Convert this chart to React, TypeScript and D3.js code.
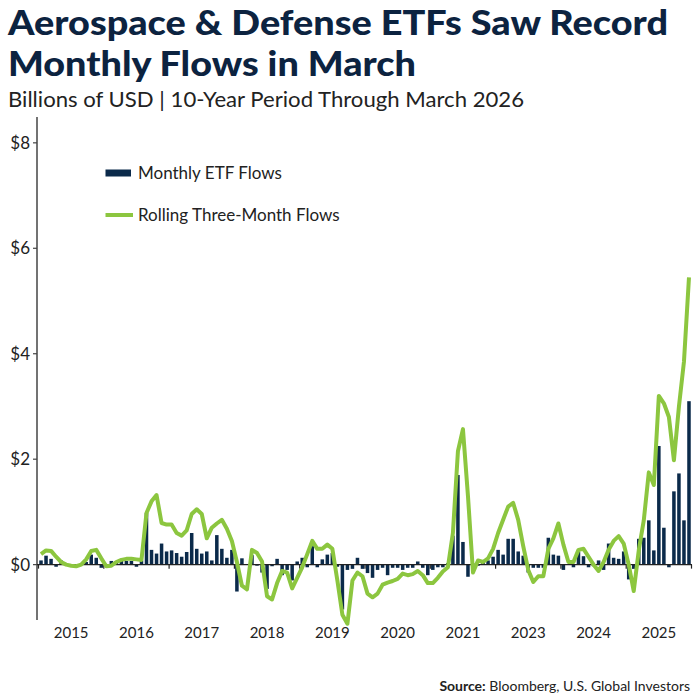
import React from "react";
import * as d3 from "d3";

// Monthly ETF flows, billions USD (Jun 2015 .. Mar 2026)
const monthlyFlows: number[] = [
  0.08, 0.17, 0.11, -0.04, 0.08, 0.02, 0.01, 0.01, 0.02, 0.05, 0.19, 0.13, -0.06,
  0.0, 0.07, 0.07, 0.07, 0.07, 0.07, -0.04, 0.08, 0.98, 0.28, 0.21, 0.4, 0.25,
  0.27, 0.22, 0.15, 0.24, 0.6, 0.3, 0.21, 0.25, 0.08, 0.56, 0.3, 0.13, 0.28,
  -0.51, 0.12, 0.01, 0.18, -0.02, -0.15, -0.46, -0.03, 0.11, -0.2, -0.1, -0.3, 0.06,
  0.13, -0.05, 0.35, -0.05, 0.1, 0.19, 0.22, -0.04, -0.85, -0.1, -0.08, 0.13, -0.08,
  -0.16, -0.25, -0.1, -0.06, -0.2, -0.06, -0.06, -0.1, -0.06, -0.06, 0.06, -0.06, -0.2,
  -0.1, -0.05, -0.05, 0.03, 0.55, 1.7, 0.43, -0.23, 0.02, -0.02, 0.05, 0.08, 0.15,
  0.28, 0.19, 0.49, 0.49, 0.25, 0.17, -0.15, -0.06, -0.06, -0.06, 0.51, 0.19, 0.17,
  -0.1, 0.0, -0.05, 0.25, 0.16, -0.05, -0.03, 0.08, -0.1, 0.4, 0.13, 0.11, 0.25,
  -0.28, -0.08, 0.49, 0.51, 0.84, 0.27, 2.25, 0.7, -0.05, 1.39, 1.73, 0.84, 3.1,
];

// Rolling three-month flows, billions USD
const rollingFlows: number[] = [
  0.2, 0.27, 0.26, 0.15, 0.05, 0.0, -0.02, -0.03, 0.0, 0.1, 0.26, 0.28, 0.12,
  -0.03, -0.02, 0.05, 0.09, 0.11, 0.11, 0.1, 0.09, 0.98, 1.2, 1.32, 0.79, 0.76,
  0.76, 0.6, 0.55, 0.65, 0.96, 1.05, 0.96, 0.5, 0.7, 0.78, 0.85, 0.68, 0.45,
  0.05, -0.4, -0.47, 0.28, 0.22, 0.06, -0.6, -0.66, -0.35, -0.12, -0.15, -0.45, -0.25,
  -0.05, 0.2, 0.45, 0.3, 0.3, 0.38, 0.3, -0.3, -0.95, -1.12, -0.3, -0.15, -0.22,
  -0.55, -0.62, -0.55, -0.38, -0.34, -0.31, -0.27, -0.17, -0.2, -0.18, -0.12, -0.2, -0.35,
  -0.35, -0.25, -0.13, -0.05, 0.6, 2.15, 2.57, 1.3, -0.15, 0.08, 0.05, 0.12, 0.3,
  0.6, 0.85, 1.1, 1.17, 0.85, 0.35, -0.1, -0.33, -0.22, -0.22, 0.3, 0.5, 0.78,
  0.38, 0.05, 0.05, 0.28, 0.3, 0.15, 0.0, -0.12, 0.05, 0.28, 0.45, 0.54, 0.4,
  0.0, -0.5, 0.27, 0.84, 1.75, 1.51, 3.2, 3.06, 2.8, 1.98, 3.0, 3.85, 5.45,
];

const yearLabels: string[] = ["2015", "2016", "2017", "2018", "2019", "2020", "2021", "2023", "2024", "2025"];
const yTickValues: number[] = [0, 2, 4, 6, 8];
const monthsPerLabel = 13;

const months: Date[] = d3.timeMonth.range(new Date(2015, 5, 1), new Date(2026, 3, 1));

const NAVY = "#0b2a4a";
const GREEN = "#8cc63f";
const FONT = "Lato, 'Open Sans', sans-serif";

export default function App() {
  const left = 38.5;
  const right = 691.5;
  const x = d3
    .scaleBand<number>()
    .domain(months.map((_, i) => i))
    .range([left, right])
    .paddingInner(0.3)
    .paddingOuter(0.15);
  const y = d3.scaleLinear().domain([-1.05, 8.49]).range([620, 117]);
  const cx = (i: number) => (x(i) as number) + x.bandwidth() / 2;

  const line = d3
    .line<number>()
    .x((_, i) => cx(i))
    .y((d) => y(d))
    .curve(d3.curveLinear);

  const groupEdges = d3.range(0, months.length + 1, monthsPerLabel).map(
    (i) => left + (right - left) * (i / months.length)
  );

  return (
    <svg
      width={700}
      height={700}
      style={{ position: "absolute", left: 0, top: 0, background: "#fff" }}
      fontFamily={FONT}
    >
      <text x={8} y={35} fontSize={34} fontWeight={900} fill="#0c2340" textLength={660} lengthAdjust="spacingAndGlyphs">
        Aerospace &amp; Defense ETFs Saw Record
      </text>
      <text x={8} y={76} fontSize={34} fontWeight={900} fill="#0c2340" textLength={408} lengthAdjust="spacingAndGlyphs">
        Monthly Flows in March
      </text>
      <text x={8} y={107} fontSize={21} fill="#222" textLength={516} lengthAdjust="spacingAndGlyphs">
        Billions of USD | 10-Year Period Through March 2026
      </text>

      {/* y axis */}
      <line x1={37} x2={37} y1={117} y2={620} stroke="#444" strokeWidth={1.5} />
      {yTickValues.map((v) => (
        <g key={v}>
          <line x1={33} x2={37} y1={y(v)} y2={y(v)} stroke="#444" strokeWidth={1.2} />
          <text x={30} y={y(v)} dy="0.35em" textAnchor="end" fontSize={17} fill="#222">
            {`$${v}`}
          </text>
        </g>
      ))}

      {/* bars */}
      {monthlyFlows.map((v, i) => (
        <rect
          key={i}
          x={x(i)}
          width={x.bandwidth()}
          y={Math.min(y(v), y(0))}
          height={Math.abs(y(v) - y(0))}
          fill={NAVY}
        />
      ))}

      {/* zero axis */}
      <line x1={37} x2={692} y1={y(0)} y2={y(0)} stroke="#222" strokeWidth={1.3} />
      {groupEdges.map((gx, i) => (
        <line key={i} x1={gx} x2={gx} y1={y(0)} y2={y(0) + 4} stroke="#222" strokeWidth={1.2} />
      ))}

      {/* rolling line */}
      <path d={line(rollingFlows) || ""} fill="none" stroke={GREEN} strokeWidth={4} strokeLinejoin="round" />

      {/* x labels */}
      {yearLabels.map((lab, i) => (
        <text
          key={lab}
          x={(groupEdges[i] + groupEdges[i + 1]) / 2}
          y={638}
          textAnchor="middle"
          fontSize={15}
          fill="#222"
        >
          {lab}
        </text>
      ))}

      {/* legend */}
      <rect x={105.5} y={169.5} width={25.5} height={7} fill={NAVY} />
      <text x={138} y={173} dy="0.35em" fontSize={17} fill="#222">
        Monthly ETF Flows
      </text>
      <line x1={105.5} x2={133} y1={215} y2={215} stroke={GREEN} strokeWidth={4} />
      <text x={138} y={215} dy="0.35em" fontSize={17} fill="#222">
        Rolling Three-Month Flows
      </text>

      {/* source */}
      <text x={690} y={691} textAnchor="end" fontSize={14} fill="#222">
        <tspan fontWeight={700}>Source:</tspan> Bloomberg, U.S. Global Investors
      </text>
    </svg>
  );
}
